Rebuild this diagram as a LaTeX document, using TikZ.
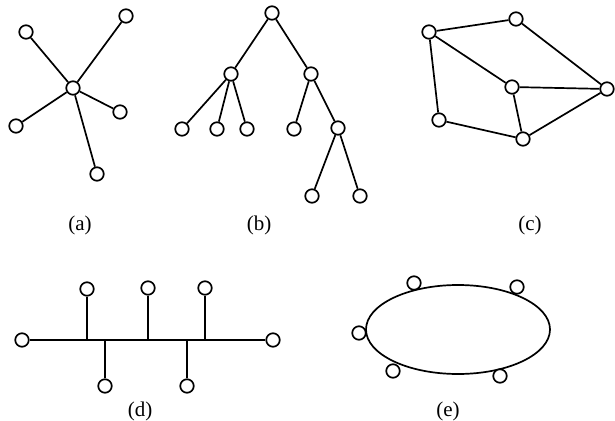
\documentclass[tikz,border=0pt]{standalone}
\usepackage{fontspec}
\setmainfont{Liberation Serif}
\begin{document}
\begin{tikzpicture}[x=1pt,y=-1pt,
  nd/.style={circle,draw,line width=1.7pt,fill=white,minimum size=13.5pt,inner sep=0pt},
  ln/.style={line width=1.7pt},
  lab/.style={font=\fontsize{21}{24}\selectfont,inner sep=0pt}]
\useasboundingbox (0,0) rectangle (615,420);
% (a) star
\node[nd] (a0) at (73,88) {};
\node[nd] (a1) at (26,32) {};
\node[nd] (a2) at (126,16) {};
\node[nd] (a3) at (120,112) {};
\node[nd] (a4) at (16,126) {};
\node[nd] (a5) at (97,174) {};
\foreach \i in {1,...,5} \draw[ln] (a0) -- (a\i);
\node[lab] (la) at (80,225) {(a)};
% (b) tree
\node[nd] (b0) at (272,13) {};
\node[nd] (b1) at (231,74) {};
\node[nd] (b2) at (311,74) {};
\node[nd] (b3) at (182,129) {};
\node[nd] (b4) at (217,129) {};
\node[nd] (b5) at (247,129) {};
\node[nd] (b6) at (294,129) {};
\node[nd] (b7) at (338,128) {};
\node[nd] (b8) at (312,196) {};
\node[nd] (b9) at (360,196) {};
\draw[ln] (b0) -- (b1); \draw[ln] (b0) -- (b2);
\draw[ln] (b1) -- (b3); \draw[ln] (b1) -- (b4); \draw[ln] (b1) -- (b5);
\draw[ln] (b2) -- (b6); \draw[ln] (b2) -- (b7);
\draw[ln] (b7) -- (b8); \draw[ln] (b7) -- (b9);
\node[lab] (lb) at (259,225) {(b)};
% (c) mesh
\node[nd] (c1) at (429,32) {};
\node[nd] (c2) at (516,19) {};
\node[nd] (c3) at (512,87) {};
\node[nd] (c4) at (607,89) {};
\node[nd] (c5) at (439,120) {};
\node[nd] (c6) at (523,139) {};
\draw[ln] (c1) -- (c2); \draw[ln] (c2) -- (c4);
\draw[ln] (c1) -- (c3); \draw[ln] (c3) -- (c4);
\draw[ln] (c1) -- (c5); \draw[ln] (c5) -- (c6);
\draw[ln] (c3) -- (c6); \draw[ln] (c6) -- (c4);
\node[lab] (lc) at (530,225) {(c)};
% (d) bus
\node[nd] (dl) at (22,340) {};
\node[nd] (dr) at (273,340) {};
\node[nd] (du1) at (87,289) {};
\node[nd] (du2) at (148,288) {};
\node[nd] (du3) at (205,288) {};
\node[nd] (dd1) at (105,386) {};
\node[nd] (dd2) at (187,386) {};
\coordinate (ju1) at (87,340);
\coordinate (ju2) at (148,340);
\coordinate (ju3) at (205,340);
\coordinate (jd1) at (105,340);
\coordinate (jd2) at (187,340);
\draw[ln] (dl) -- (dr);
\draw[ln] (du1) -- (ju1); \draw[ln] (du2) -- (ju2); \draw[ln] (du3) -- (ju3);
\draw[ln] (dd1) -- (jd1); \draw[ln] (dd2) -- (jd2);
\node[lab] (ld) at (140,411) {(d)};
% (e) ring
\draw[ln] (458,329.5) ellipse [x radius=92, y radius=44.5];
\node[nd] (e1) at (414,283) {};
\node[nd] (e2) at (517,287) {};
\node[nd] (e3) at (359,333) {};
\node[nd] (e4) at (393,371) {};
\node[nd] (e5) at (500,376) {};
\node[lab] (le) at (448,411) {(e)};
\end{tikzpicture}
\end{document}
